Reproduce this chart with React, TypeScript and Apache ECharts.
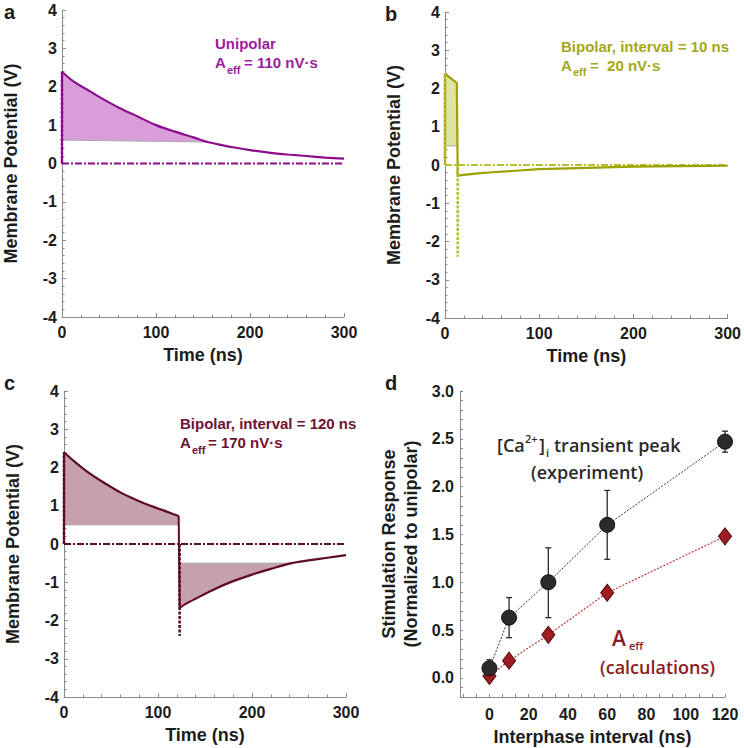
import React, { useEffect, useRef } from "react";
import * as echarts from "echarts";

// ---------- data ----------
// Panel a (unipolar)
const tDecayA = [0, 10, 20, 30, 40, 60, 80, 100, 120, 140, 155, 170, 185, 200, 220, 240, 260, 280, 300];
const vDecayA = [2.39, 2.18, 2.02, 1.88, 1.73, 1.46, 1.23, 1.0, 0.83, 0.68, 0.56, 0.48, 0.41, 0.35, 0.285, 0.235, 0.195, 0.155, 0.125];
const baseA = [[0, 0.61], [155, 0.56]];

// Panel b (bipolar, 10 ns)
const tPhaseB = [0, 12.5];
const vPhaseB = [2.38, 2.15];
const tRecB = [13.5, 20, 35, 50, 75, 100, 140, 170, 200, 250, 300];
const vRecB = [-0.28, -0.26, -0.22, -0.19, -0.15, -0.11, -0.08, -0.06, -0.045, -0.03, -0.02];
const baseB = [[0, 0.5], [12.5, 0.5]];
const pulseB = 13.5;

// Panel c (bipolar, 120 ns)
const tC1 = [0, 10, 20, 30, 40, 50, 60, 70, 80, 90, 100, 110, 122];
const vC1 = [2.4, 2.18, 1.98, 1.8, 1.64, 1.49, 1.35, 1.23, 1.12, 1.02, 0.93, 0.84, 0.73];
const tC2 = [123, 130, 140, 160, 180, 200, 220, 242, 260, 280, 300];
const vC2 = [-1.67, -1.56, -1.43, -1.18, -0.97, -0.8, -0.65, -0.5, -0.43, -0.36, -0.29];
const baseC1 = [[0, 0.5], [122, 0.5]];
const baseC2 = [[123, -0.5], [242, -0.5]];
const pulseC = 123;
const pulseAmp = 2.4;

// Panel d
const intervals = [0, 10, 30, 60, 120];
const expMean = [0.1, 0.63, 1.0, 1.6, 2.47];
const expLow = [0.02, 0.42, 0.63, 1.24, 2.36];
const expHigh = [0.19, 0.84, 1.36, 1.96, 2.58];
const aeffNorm = [0.02, 0.18, 0.45, 0.89, 1.48];

const timeTicks = [0, 100, 200, 300];
const dXLabels = [0, 20, 40, 60, 80, 100, 120];
const dXTicks = [-13.33, -6.67, 0, 6.67, 13.33, 20, 26.67, 33.33, 40, 46.67, 53.33, 60, 66.67, 73.33, 80, 86.67, 93.33, 100, 106.67, 113.33, 120];
const dYLabels = [0, 0.5, 1.0, 1.5, 2.0, 2.5, 3.0];
const dYTicks = [-0.1, 0, 0.1, 0.2, 0.3, 0.4, 0.5, 0.6, 0.7, 0.8, 0.9, 1.0, 1.1, 1.2, 1.3, 1.4, 1.5, 1.6, 1.7, 1.8, 1.9, 2.0, 2.1, 2.2, 2.3, 2.4, 2.5, 2.6, 2.7, 2.8, 2.9, 3.0];

// ---------- styles ----------
const FONT = '"Liberation Sans", Arial, Helvetica, sans-serif';
const FONT2 = '"Open Sans", "Noto Sans", sans-serif';
const AXIS = "#8a8a8a";
const INK = "#1c1c1c";

const PURPLE = "#8c0d8c";
const PURPLE_T = "#9c1c9c";
const PURPLE_F = "#d99ed9";
const OLIVE = "#9ca000";
const OLIVE_T = "#a3a818";
const OLIVE_F = "#dfe4a2";
const OLIVE_D = "#b6bf2c";
const MAROON = "#5e0b24";
const MAROON_T = "#6e1232";
const MAROON_F = "#c5a0ae";

const zip = (xs: number[], ys: number[]) => xs.map((x, i) => [x, ys[i]]);

function timeX(gi: number) {
  return {
    type: "value", gridIndex: gi, min: 0, max: 300, interval: 100,
    axisLine: { show: true, onZero: false, lineStyle: { color: AXIS, width: 1 } },
    axisTick: { show: true, inside: true, length: 4, lineStyle: { color: AXIS } },
    minorTick: { show: true, splitNumber: 5, length: 2.5, lineStyle: { color: AXIS } },
    splitLine: { show: false },
    axisLabel: { color: INK, fontSize: 16, fontWeight: "bold", fontFamily: FONT, margin: 7,
      formatter: (v: number) => (timeTicks.includes(v) ? String(v) : "") },
    name: "Time (ns)", nameLocation: "middle", nameGap: 29,
    nameTextStyle: { color: INK, fontSize: 18, fontWeight: "bold", fontFamily: FONT },
  };
}
function potY(gi: number) {
  return {
    type: "value", gridIndex: gi, min: -4, max: 4, interval: 1,
    axisLine: { show: true, onZero: false, lineStyle: { color: AXIS, width: 1 } },
    axisTick: { show: true, inside: true, length: 4, lineStyle: { color: AXIS } },
    minorTick: { show: true, splitNumber: 5, length: 2.5, lineStyle: { color: AXIS } },
    splitLine: { show: false },
    axisLabel: { color: INK, fontSize: 16, fontWeight: "bold", fontFamily: FONT, margin: 5 },
    name: "Membrane Potential (V)", nameLocation: "middle", nameGap: 42,
    nameTextStyle: { color: INK, fontSize: 18, fontWeight: "bold", fontFamily: FONT },
  };
}

function line(gi: number, data: number[][], color: string, width: number, opts: any = {}) {
  return {
    type: "line", xAxisIndex: gi, yAxisIndex: gi, data, symbol: "none", silent: true,
    smooth: opts.smooth ?? false, z: opts.z ?? 4,
    lineStyle: { color, width, type: opts.type ?? "solid", cap: "butt" },
  };
}
function fill(gi: number, upper: number[][], lower: number[][], color: string) {
  return {
    type: "custom", xAxisIndex: gi, yAxisIndex: gi, silent: true, z: 1,
    data: [[0, 0]],
    renderItem: (_p: any, api: any) => {
      const pts = [...upper, ...lower.slice().reverse()].map((p) => api.coord(p));
      return { type: "polygon", shape: { points: pts }, style: { fill: color } };
    },
  };
}

function panelSeries(gi: number, dashColor: string, pulses: number[][]) {
  const s: any[] = [];
  s.push(line(gi, [[0, 0], [300, 0]], dashColor, 1.8, { type: [7, 2, 2, 2], z: 3 }));
  pulses.forEach((p) => {
    s.push(line(gi, [[p[0], 0], [p[0], p[1]]], dashColor, 2.6, { type: [3, 1.5], z: 5 }));
  });
  return s;
}

function txt(x: number, y: number, text: string, fill: string, size: number, font = FONT, weight = "bold") {
  return {
    type: "text", x, y, silent: true, z: 100,
    style: { text, fill, font: `${weight} ${size}px ${font}`, textAlign: "left", textVerticalAlign: "middle", align: "left", verticalAlign: "middle" },
  };
}

function buildOption() {
  const curveA = zip(tDecayA, vDecayA);
  const upperA = curveA.filter((p) => p[0] <= 155);
  const phaseB = zip(tPhaseB, vPhaseB);
  const recB = zip(tRecB, vRecB);
  const c1 = zip(tC1, vC1);
  const c2 = zip(tC2, vC2);
  const upperC2 = c2.filter((p) => p[0] <= 242);

  const series: any[] = [
    // a
    fill(0, upperA, baseA, PURPLE_F),
    line(0, baseA, "#a9a9a9", 1, { z: 2 }),
    ...panelSeries(0, PURPLE, [[0, pulseAmp]]),
    line(0, [[0, 0], [0, vDecayA[0]]], PURPLE, 2),
    line(0, curveA, PURPLE, 2.2, { smooth: 0.3 }),
    // b
    fill(1, phaseB, baseB, OLIVE_F),
    line(1, baseB, "#a9a9a9", 1, { z: 2 }),
    ...panelSeries(1, OLIVE_D, [[0, pulseAmp], [pulseB, -pulseAmp]]),
    line(1, [[0, 0], ...phaseB, ...recB], OLIVE, 2.2),
    // c
    fill(2, c1, baseC1, MAROON_F),
    fill(2, upperC2, baseC2, MAROON_F),
    line(2, baseC1, "#a9a9a9", 1, { z: 2 }),
    line(2, baseC2, "#a9a9a9", 1, { z: 2 }),
    ...panelSeries(2, MAROON, [[0, pulseAmp], [pulseC, -pulseAmp]]),
    line(2, [[0, 0], c1[0]], MAROON, 2),
    line(2, c1, MAROON, 2.2, { smooth: 0.3 }),
    line(2, [c1[c1.length - 1], c2[0]], MAROON, 2),
    line(2, c2, MAROON, 2.2, { smooth: 0.3 }),
    // d
    {
      type: "custom", xAxisIndex: 3, yAxisIndex: 3, silent: true, z: 2,
      data: intervals.map((x, i) => [x, expLow[i], expHigh[i]]),
      encode: { x: 0, y: [1, 2] },
      renderItem: (_p: any, api: any) => {
        const x = api.value(0);
        const lo = api.coord([x, api.value(1)]);
        const hi = api.coord([x, api.value(2)]);
        const w = 3;
        const st = { stroke: "#2a2a2a", lineWidth: 1.3 };
        return {
          type: "group",
          children: [
            { type: "line", shape: { x1: lo[0], y1: lo[1], x2: hi[0], y2: hi[1] }, style: st },
            { type: "line", shape: { x1: hi[0] - w, y1: hi[1], x2: hi[0] + w, y2: hi[1] }, style: st },
            { type: "line", shape: { x1: lo[0] - w, y1: lo[1], x2: lo[0] + w, y2: lo[1] }, style: st },
          ],
        };
      },
    },
    {
      type: "line", xAxisIndex: 3, yAxisIndex: 3, data: zip(intervals, aeffNorm), silent: true, z: 4,
      symbol: "diamond", symbolSize: [13, 17],
      lineStyle: { color: "#c23a3a", width: 1.2, type: [2, 1.5] },
      itemStyle: { color: "#a01c24", borderColor: "#4d0a0a", borderWidth: 1 },
    },
    {
      type: "line", xAxisIndex: 3, yAxisIndex: 3, data: zip(intervals, expMean), silent: true, z: 5,
      symbol: "circle", symbolSize: 15,
      lineStyle: { color: "#333333", width: 1, type: [2, 1.5] },
      itemStyle: { color: "#2b2b2b", borderColor: "#111111", borderWidth: 1 },
    },
  ];

  const graphic: any[] = [
    txt(4, 12, "a", INK, 20),
    txt(385, 14, "b", INK, 20),
    txt(4, 383, "c", INK, 20),
    txt(385, 383, "d", INK, 20),
    // a
    txt(215, 43, "Unipolar", PURPLE_T, 15),
    txt(215, 62, "A", PURPLE_T, 15),
    txt(227, 70, "eff", PURPLE_T, 11),
    txt(244, 62, "= 110 nV\u00B7s", PURPLE_T, 15),
    // b
    txt(561, 46, "Bipolar, interval = 10 ns", OLIVE_T, 15),
    txt(561, 65, "A", OLIVE_T, 15),
    txt(573, 72, "eff", OLIVE_T, 11),
    txt(590, 65, "=  20 nV\u00B7s", OLIVE_T, 15),
    // c
    txt(180, 423, "Bipolar, interval = 120 ns", MAROON_T, 15),
    txt(180, 442, "A", MAROON_T, 15),
    txt(192, 450, "eff", MAROON_T, 11),
    txt(208, 442, "= 170 nV\u00B7s", MAROON_T, 15),
    // d
    txt(497, 445, "[Ca", "#2a2a2a", 18, FONT2, "600"),
    txt(525, 438, "2+", "#2a2a2a", 11, FONT2, "600"),
    txt(539, 445, "]", "#2a2a2a", 18, FONT2, "600"),
    txt(546, 452, "i", "#2a2a2a", 11, FONT2, "600"),
    txt(554, 445, "transient peak", "#2a2a2a", 18, FONT2, "600"),
    txt(531, 472, "(experiment)", "#2a2a2a", 18, FONT2, "600"),
    txt(612, 638, "A", "#8b1c24", 21, FONT2, "600"),
    txt(629, 645, "eff", "#8b1c24", 11, FONT2, "600"),
    txt(600, 667, "(calculations)", "#8b1c24", 18, FONT2, "600"),
  ];

  return {
    animation: false,
    backgroundColor: "#ffffff",
    grid: [
      { left: 62, top: 10, width: 282, height: 307 },
      { left: 445, top: 12, width: 283, height: 306 },
      { left: 64, top: 391, width: 282, height: 306 },
      { left: 460, top: 391, width: 265, height: 306 },
    ],
    xAxis: [
      timeX(0), timeX(1), timeX(2),
      {
        type: "value", gridIndex: 3, min: -15, max: 120,
        axisLine: { show: true, onZero: false, lineStyle: { color: AXIS, width: 1 } },
        axisTick: { show: true, inside: true, length: 3, customValues: dXTicks, lineStyle: { color: AXIS } },
        splitLine: { show: false },
        axisLabel: { color: INK, fontSize: 16, fontWeight: "bold", fontFamily: FONT, margin: 9, customValues: dXLabels },
        name: "Interphase interval (ns)", nameLocation: "middle", nameGap: 31,
        nameTextStyle: { color: INK, fontSize: 18, fontWeight: "bold", fontFamily: FONT },
      },
    ],
    yAxis: [
      potY(0), potY(1), potY(2),
      {
        type: "value", gridIndex: 3, min: -0.2, max: 3.0,
        axisLine: { show: true, onZero: false, lineStyle: { color: AXIS, width: 1 } },
        axisTick: { show: true, inside: true, length: 3, customValues: dYTicks, lineStyle: { color: AXIS } },
        splitLine: { show: false },
        axisLabel: { color: INK, fontSize: 16, fontWeight: "bold", fontFamily: FONT, margin: 6, customValues: dYLabels,
          formatter: (v: number) => v.toFixed(1) },
        name: "Stimulation Response\n(Normalized to unipolar)", nameLocation: "middle", nameGap: 38,
        nameTextStyle: { color: INK, fontSize: 18, fontWeight: "bold", fontFamily: FONT, lineHeight: 22 },
      },
    ],
    series,
    graphic,
  };
}

export default function App() {
  const ref = useRef<HTMLDivElement>(null);
  useEffect(() => {
    document.body.style.margin = "0";
    if (!ref.current) return;
    const chart = echarts.init(ref.current, undefined, { renderer: "svg" });
    chart.setOption(buildOption() as any);
    return () => chart.dispose();
  }, []);
  return <div ref={ref} style={{ width: 744, height: 748, position: "absolute", left: 0, top: 0 }} />;
}
